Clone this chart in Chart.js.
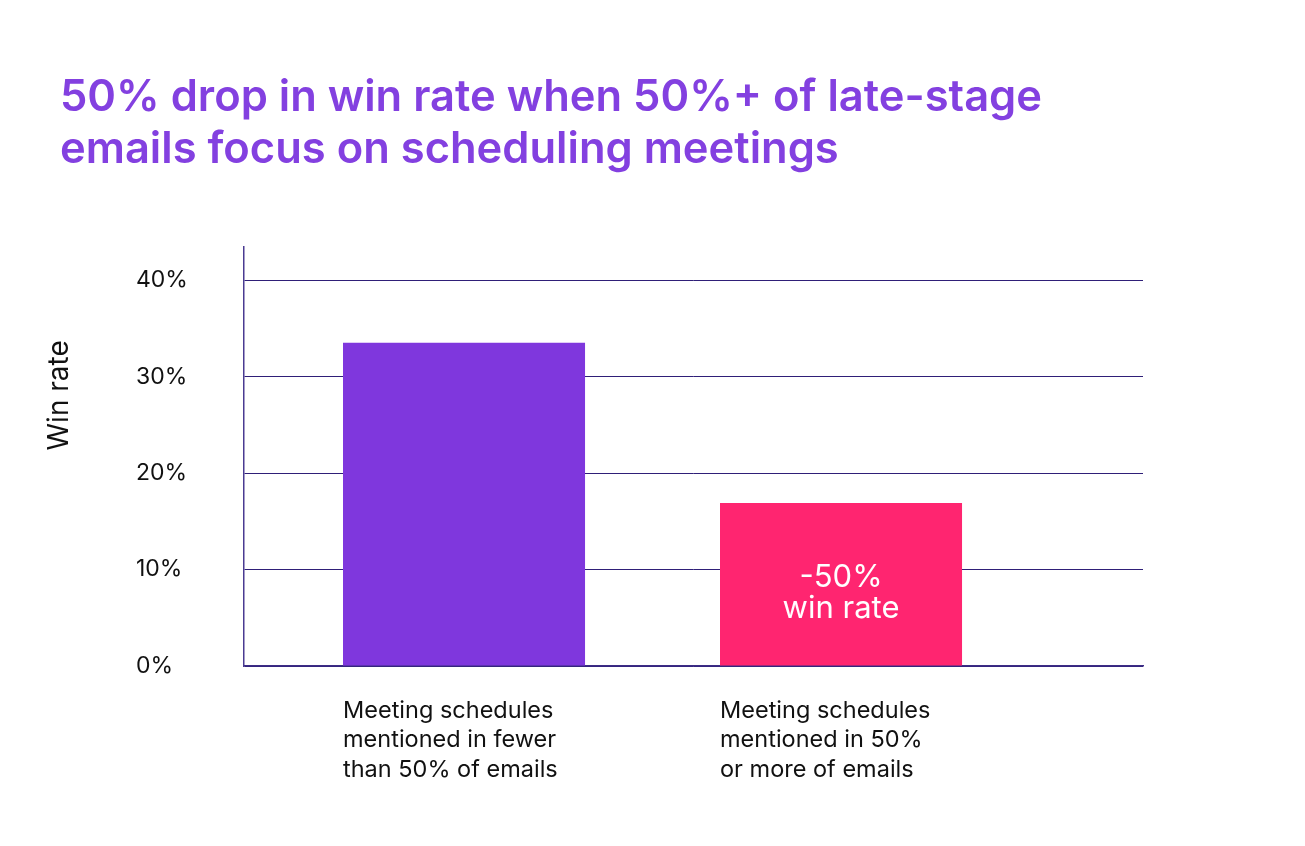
<!DOCTYPE html>
<html>
<head>
<meta charset="utf-8">
<script src="https://cdn.jsdelivr.net/npm/chart.js@4.4.1/dist/chart.umd.min.js"></script>
<style>
  html, body { margin: 0; padding: 0; background: #ffffff; }
  #wrap { width: 1305px; height: 846px; position: relative; }
</style>
</head>
<body>
<div id="wrap"><canvas id="c" width="1305" height="846"></canvas></div>
<script>
// ---- data ----
const categories = [
  ["Meeting schedules", "mentioned in fewer", "than 50% of emails"],
  ["Meeting schedules", "mentioned in 50%", "or more of emails"]
];
const winRates = [33.5, 16.9];
const barColors = ["#7f37dd", "#ff2570"];
const yTickValues = [0, 10, 20, 30, 40];
const barNote = ["-50%", "win rate"];
const noteBarIndex = 1;
const titleLines = ["50% drop in win rate when 50%+ of late-stage", "emails focus on scheduling meetings"];
const yAxisTitle = "Win rate";

const FONT = "Inter, 'Noto Sans', 'DejaVu Sans', sans-serif";

const notePlugin = {
  id: 'barNote',
  afterDatasetsDraw(chart) {
    const meta = chart.getDatasetMeta(0);
    const el = meta.data[noteBarIndex];
    if (!el) return;
    const ctx = chart.ctx;
    ctx.save();
    ctx.fillStyle = '#ffffff';
    ctx.font = '400 31px ' + FONT;
    ctx.textAlign = 'center';
    ctx.textBaseline = 'middle';
    const mid = (el.y + el.base) / 2 + 9;
    const lh = 31;
    barNote.forEach((t, i) => {
      ctx.fillText(t, el.x, mid + (i - (barNote.length - 1) / 2) * lh);
    });
    ctx.restore();
  }
};

// y-axis title, placed a bit above the vertical middle of the plot as in the reference
const yTitlePlugin = {
  id: 'yTitleText',
  afterDraw(chart) {
    const s = chart.scales.yTitle;
    const area = chart.chartArea;
    const ctx = chart.ctx;
    ctx.save();
    ctx.translate(s.left, area.top + (area.bottom - area.top) * 0.355);
    ctx.rotate(-Math.PI / 2);
    ctx.fillStyle = '#111111';
    ctx.font = '400 28px ' + FONT;
    ctx.textAlign = 'center';
    ctx.textBaseline = 'middle';
    ctx.fillText(yAxisTitle, 0, 0);
    ctx.restore();
  }
};

new Chart(document.getElementById('c'), {
  type: 'bar',
  data: {
    datasets: [{
      xAxisID: 'x',
      yAxisID: 'y',
      data: winRates.map((v, i) => ({ x: i, y: v })),
      backgroundColor: barColors,
      borderWidth: 0,
      categoryPercentage: 1,
      barPercentage: 0.642
    }]
  },
  plugins: [notePlugin, yTitlePlugin],
  options: {
    responsive: false,
    animation: false,
    devicePixelRatio: 1,
    layout: { padding: { left: 60, right: 162, top: 0, bottom: 0 } },
    plugins: {
      legend: { display: false },
      tooltip: { enabled: false },
      title: {
        display: true,
        text: titleLines,
        align: 'start',
        color: '#8340e0',
        font: { family: FONT, size: 43.5, weight: '600', lineHeight: 1.2 },
        padding: { top: 72, bottom: 70 }
      }
    },
    scales: {
      x: {
        type: 'linear',
        offset: false,
        bounds: 'data',
        min: -0.5836,
        max: 1.801,
        afterBuildTicks: (s) => { s.ticks = categories.map((c, i) => ({ value: i })); },
        afterFit: (s) => { s.height = 180; },
        grid: { display: false, drawTicks: false, offset: false },
        border: { display: true, color: '#3d2d85', width: 1.5 },
        ticks: {
          align: 'start',
          labelOffset: -121,
          padding: 30,
          color: '#111111',
          font: { family: FONT, size: 23.5, lineHeight: 1.25 },
          callback: (v) => categories[v] || ''
        }
      },
      y: {
        type: 'linear',
        position: 'left',
        weight: 0,
        min: 0,
        max: 43.5,
        afterFit: (s) => { s.width = 108; },
        afterBuildTicks: (s) => { s.ticks = yTickValues.map(v => ({ value: v })); },
        grid: { color: '#2f1f78', lineWidth: 1, drawTicks: false },
        border: { display: true, color: '#4a3b92', width: 1.5 },
        ticks: {
          crossAlign: 'far',
          color: '#111111',
          font: { family: FONT, size: 23 },
          callback: (v) => v + '%'
        }
      },
      yTitle: {
        type: 'linear',
        position: 'left',
        weight: 10,
        afterFit: (s) => { s.width = 76; },
        grid: { display: false, drawTicks: false },
        border: { display: false },
        ticks: { display: false },
        title: { display: false }
      }
    }
  }
});
</script>
</body>
</html>
